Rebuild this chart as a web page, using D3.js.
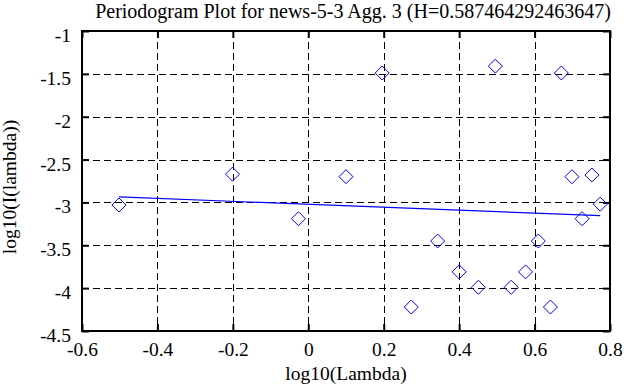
<!DOCTYPE html>
<html><head><meta charset="utf-8">
<script src="https://cdn.jsdelivr.net/npm/d3@7"></script>
<style>body{margin:0;background:#fff;} svg text{font-family:"Liberation Serif",serif !important;fill:#000;}</style>
</head><body>
<svg id="c" width="642" height="387"></svg>
<script>
const title = "Periodogram Plot for news-5-3 Agg. 3 (H=0.587464292463647)";
const xLabel = "log10(Lambda)";
const yLabel = "log10(I(lambda))";
const xTicks = [-0.6, -0.4, -0.2, 0, 0.2, 0.4, 0.6, 0.8];
const yTicks = [-1, -1.5, -2, -2.5, -3, -3.5, -4, -4.5];
const pointX = [-0.502, -0.201, 0.196, 0.100, -0.026, 0.343, 0.273, 0.496, 0.671, 0.699, 0.752, 0.774, 0.726, 0.610, 0.400, 0.451, 0.538, 0.576, 0.642];
const pointY = [-3.03, -2.67, -1.49, -2.70, -3.19, -3.45, -4.22, -1.41, -1.49, -2.70, -2.68, -3.02, -3.19, -3.45, -3.81, -3.99, -3.99, -3.81, -4.22];
const fitX = [-0.502, 0.774];
const fitY = [-2.935, -3.155];

const svg = d3.select("#c");
const L = 82, R = 610, T = 31, B = 331;
const x = d3.scaleLinear().domain([-0.6, 0.8]).range([L, R]);
const y = d3.scaleLinear().domain([-4.5, -1]).range([B, T]);
const fmt = d => String(d);
const fs = 19.5;

// grid
const g = svg.append("g");
g.selectAll(".gx").data(xTicks.slice(1, -1)).enter().append("line")
  .attr("x1", d => Math.round(x(d)) + 0.5).attr("x2", d => Math.round(x(d)) + 0.5)
  .attr("y1", T).attr("y2", B).attr("stroke", "#000").attr("stroke-width", 1)
  .attr("stroke-dasharray", "7,4").attr("shape-rendering", "crispEdges");
g.selectAll(".gy").data(yTicks.slice(1, -1)).enter().append("line")
  .attr("y1", d => Math.round(y(d)) + 0.5).attr("y2", d => Math.round(y(d)) + 0.5)
  .attr("x1", L).attr("x2", R).attr("stroke", "#000").attr("stroke-width", 1)
  .attr("stroke-dasharray", "7,4").attr("shape-rendering", "crispEdges");

// axes with inward ticks
const tk = 7;
const axB = svg.append("g").attr("transform", `translate(0,${B})`)
  .call(d3.axisBottom(x).tickValues(xTicks).tickFormat(fmt).tickSizeInner(-tk).tickSizeOuter(0).tickPadding(11));
const axT = svg.append("g").attr("transform", `translate(0,${T})`)
  .call(d3.axisTop(x).tickValues(xTicks).tickFormat("").tickSizeInner(-tk).tickSizeOuter(0));
const axL = svg.append("g").attr("transform", `translate(${L},0)`)
  .call(d3.axisLeft(y).tickValues(yTicks).tickFormat(fmt).tickSizeInner(-tk).tickSizeOuter(0).tickPadding(11));
const axR = svg.append("g").attr("transform", `translate(${R},0)`)
  .call(d3.axisRight(y).tickValues(yTicks).tickFormat("").tickSizeInner(-tk).tickSizeOuter(0));
[axB, axT, axL, axR].forEach(a => {
  a.attr("font-family", null).attr("font-size", null);
  a.select(".domain").remove();
  a.selectAll("line").attr("stroke", "#000").attr("stroke-width", 2);
  a.selectAll("text").style("font-size", fs + "px").style("font-family", "'Liberation Serif', serif");
});
axL.selectAll("text").attr("dy", "0.54em");
svg.append("rect").attr("x", L).attr("y", T).attr("width", R - L).attr("height", B - T)
  .attr("fill", "none").attr("stroke", "#000").attr("stroke-width", 2);

// fit line
svg.append("line").attr("x1", x(fitX[0])).attr("y1", y(fitY[0]))
  .attr("x2", x(fitX[1])).attr("y2", y(fitY[1])).attr("stroke", "#0000ff").attr("stroke-width", 1.2);

// points (diamonds)
const pts = pointX.map((v, i) => [v, pointY[i]]);
svg.selectAll(".pt").data(pts).enter().append("path")
  .attr("d", d => { const cx = x(d[0]), cy = y(d[1]), r = 7; return `M${cx},${cy - r}L${cx + r},${cy}L${cx},${cy + r}L${cx - r},${cy}Z`; })
  .attr("fill", "none").attr("stroke", "#0000ff").attr("stroke-width", 1);

// labels
svg.append("text").attr("x", 353).attr("y", 18).attr("text-anchor", "middle").style("font-size", "20px").text(title);
svg.append("text").attr("x", 346).attr("y", 380).attr("text-anchor", "middle").style("font-size", fs + "px").text(xLabel);
svg.append("text").attr("transform", "translate(16,187) rotate(-90)").attr("text-anchor", "middle").style("font-size", fs + "px").text(yLabel);
</script>
</body></html>
